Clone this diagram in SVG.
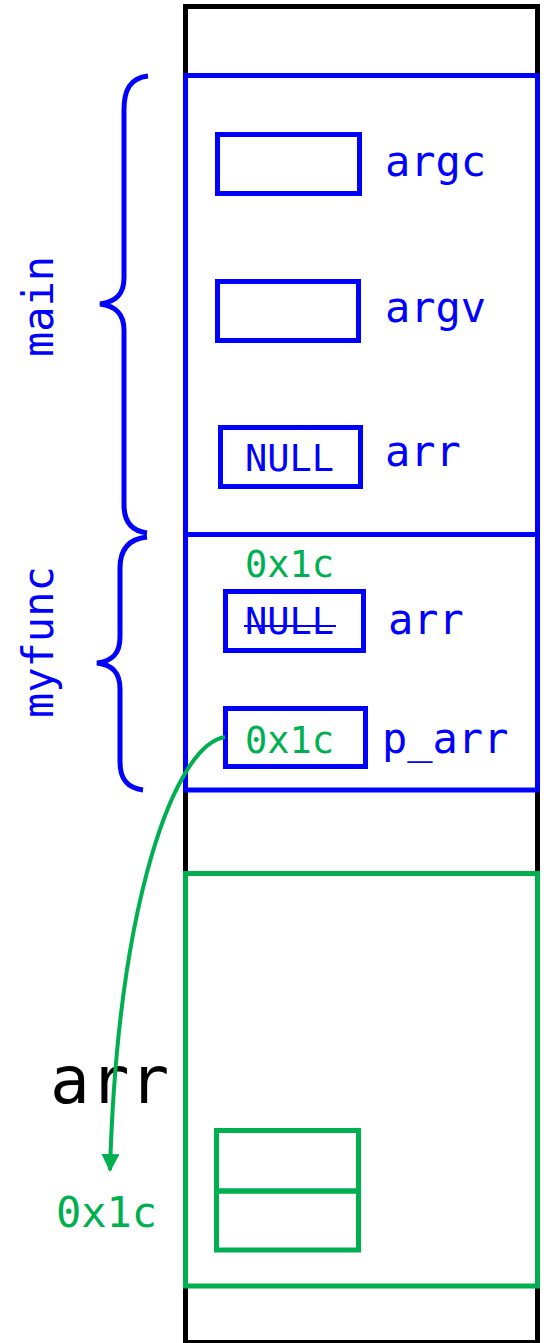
<svg xmlns="http://www.w3.org/2000/svg" width="548" height="1343" viewBox="0 0 548 1343">
<style>
.t{font-family:"DejaVu Sans Mono","Liberation Mono",monospace;font-size:42px}
.s{font-size:37px}
.b{fill:#0000FF}
.g{fill:#00B050}
.box{fill:none;stroke-width:5}
.bs{stroke:#0000FF}
.gs{stroke:#00B050}
.br{fill:none;stroke:#0000FF;stroke-width:5}
</style>
<defs>
<marker id="ah" markerWidth="18" markerHeight="18" viewBox="0 0 18 18" refX="16" refY="9" orient="auto" markerUnits="userSpaceOnUse">
<path d="M0,0 L18,9 L0,18 Z" fill="#00B050"/>
</marker>
</defs>
<g id="stack">
<rect x="185.5" y="6.5" width="352" height="1336" fill="none" stroke="#000" stroke-width="5"/>
</g>
<g id="main-frame">
<rect class="box bs" x="185.5" y="75.5" width="352" height="459"/>
<path class="br" d="M148,76 C130,78 124,90 124,110 L124,278 C124,295 115,302 100,304 C115,306 124,313 124,330 L124,505 C124,522 132,531 147,533"/>
<text class="t b" transform="translate(53,357) rotate(-90)">main</text>
</g>
<g id="myfunc-frame">
<rect class="box bs" x="185.5" y="534.5" width="352" height="255.5"/>
<path class="br" d="M147,537 C128,539 120,550 120,568 L120,637 C120,654 112,661 97,663 C112,665 120,672 120,689 L120,762 C120,780 128,788 143,790"/>
<text class="t b" transform="translate(53,718) rotate(-90)">myfunc</text>
</g>
<g id="argc">
<rect class="box bs" x="217.5" y="134.5" width="142" height="59"/>
<text class="t b" x="385" y="176">argc</text>
</g>
<g id="argv">
<rect class="box bs" x="217.5" y="281.5" width="141" height="59"/>
<text class="t b" x="385" y="322">argv</text>
</g>
<g id="main-arr">
<rect class="box bs" x="220.5" y="427.5" width="140" height="59"/>
<text class="t s b" x="245" y="471">NULL</text>
<text class="t b" x="385" y="466">arr</text>
</g>
<g id="myfunc-arr">
<rect class="box bs" x="225.5" y="591.5" width="138" height="59"/>
<text class="t s g" x="245" y="577">0x1c</text>
<text class="t s b" x="245" y="634">NULL</text>
<line x1="244" y1="626" x2="336" y2="626" stroke="#0000FF" stroke-width="2"/>
<text class="t b" x="388" y="634">arr</text>
</g>
<g id="p_arr">
<rect class="box bs" x="225.5" y="708.5" width="140" height="58"/>
<text class="t s g" x="245" y="753">0x1c</text>
<text class="t b" x="382" y="753">p_arr</text>
</g>
<g id="heap-arr">
<rect class="box gs" x="185.5" y="873.5" width="352" height="412.5"/>
<rect class="box gs" x="216.5" y="1130.5" width="142" height="60.5"/>
<rect class="box gs" x="216.5" y="1191" width="142" height="59"/>
<text class="t" x="50" y="1103" style="font-size:66px" fill="#000">arr</text>
<text class="t g" x="56" y="1227">0x1c</text>
</g>
<g id="connectors">
<path d="M225,737 C175,745 118,900 110,1170" fill="none" stroke="#00B050" stroke-width="4" marker-end="url(#ah)"/>
</g>
</svg>
